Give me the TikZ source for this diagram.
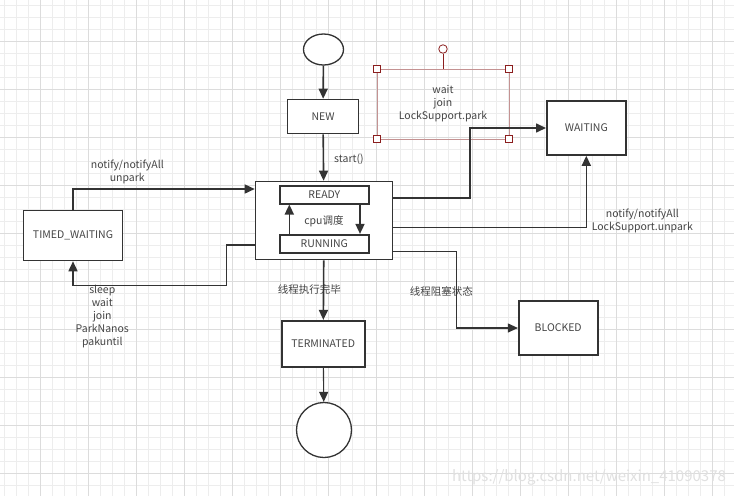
\documentclass[tikz,border=0pt]{standalone}
\usepackage{fontspec}
\setmainfont{Noto Sans CJK SC}
\usetikzlibrary{arrows.meta,shapes.geometric}

\definecolor{linegray}{HTML}{333333}
\definecolor{textgray}{HTML}{444444}
\definecolor{gridminor}{HTML}{EDEDED}
\definecolor{gridmajor}{HTML}{DCDCDC}
\definecolor{selline}{HTML}{C49292}
\definecolor{selhandle}{HTML}{8B1E1E}

\begin{document}
\begin{tikzpicture}[x=1pt,y=-1pt,
    font=\fontsize{10.5}{13}\selectfont,
    box/.style={draw=linegray,line width=1.6pt,fill=white,text=textgray,inner sep=0pt},
    conn/.style={draw=linegray,line width=1.6pt,-{Triangle[length=10pt,width=9pt]}},
    thinconn/.style={draw=linegray,line width=1.1pt,-{Triangle[length=10pt,width=9pt]}},
    lbl/.style={text=textgray,align=center,inner sep=0pt},
    handle/.style={draw=selhandle,line width=0.8pt,fill=white,minimum size=7pt,inner sep=0pt}]
                \useasboundingbox (0,0) rectangle (734,496);
                \fill[white] (0,0) rectangle (734,496);
                % grid
                \foreach \gx in {0,...,60} \draw[gridminor,line width=0.9pt] ({4.3+12*\gx},0) -- ({4.3+12*\gx},496);
                \foreach \gy in {0,...,40} \draw[gridminor,line width=0.9pt] (0,{5.5+12*\gy}) -- (734,{5.5+12*\gy});
                \foreach \gx in {0,...,14} \draw[gridmajor,line width=0.9pt] ({40.3+48*\gx},0) -- ({40.3+48*\gx},496);
                \foreach \gy in {0,...,9} \draw[gridmajor,line width=0.9pt] (0,{41.3+48*\gy}) -- (734,{41.3+48*\gy});

                % states
                \node[box,ellipse,line width=1.3pt,minimum width=40pt,minimum height=31pt] (start) at (323.5,49.5) {};
                \node[box,minimum width=71pt,minimum height=34pt] (new) at (323,116.5) {NEW};
                \node[box,minimum width=137pt,minimum height=78pt] (runnable) at (324,220.5) {};
                \node[box,minimum width=89pt,minimum height=18pt] (ready) at (324.3,194.7) {READY};
                \node[box,minimum width=89pt,minimum height=18pt] (running) at (324.3,243.7) {RUNNING};
                \node[box,minimum width=79pt,minimum height=54pt] (waiting) at (586.3,128) {WAITING};
                \node[box,minimum width=99pt,minimum height=50pt] (timed) at (73,235.5) {TIMED\_WAITING};
                \node[box,minimum width=83pt,minimum height=46pt] (terminated) at (323.2,343.7) {TERMINATED};
                \node[box,minimum width=79pt,minimum height=54pt] (blocked) at (558.2,328) {BLOCKED};
                \node[box,circle,line width=1.3pt,minimum size=55pt] (end) at (324,430) {};

                % selected label
                \node[lbl,draw=selline,line width=0.7pt,minimum width=132pt,minimum height=70pt] (waitlbl) at (443,104) {wait\\join\\LockSupport.park};
                \foreach \c in {north west,north east,south west,south east} \node[handle] at (waitlbl.\c) {};
                \node[handle,circle,minimum size=8.5pt] (rot) at (443,49) {};
                \draw[selhandle,line width=0.8pt] (rot) -- (waitlbl.north);

                % labels
                \node[lbl,anchor=west] (startlbl) at (334,159) {start()};
                \node[lbl] (cpulbl) at (324,221) {cpu调度};
                \node[lbl] (tw2r) at (127.3,172) {notify/notifyAll\\unpark};
                \node[lbl] (r2tw) at (102.3,316.7) {sleep\\wait\\join\\ParkNanos\\pakuntil};
                \node[lbl] (w2r) at (642.3,221) {notify/notifyAll\\LockSupport.unpark};
                \node[lbl] (donelbl) at (309.3,289.3) {线程执行完毕};
                \node[lbl] (blocklbl) at (441.3,291.7) {线程阻塞状态};

                % transitions
                \draw[conn] (start) -- (new);
                \draw[conn] (new) -- (runnable);
                \draw[conn] ([xshift=35.7pt]ready.south) -- ([xshift=35.7pt]running.north);
                \draw[conn] ([xshift=-35pt]running.north) -- ([xshift=-35pt]ready.south);
                \draw[conn] (timed.north) |- ([yshift=31.5pt]runnable.west);
                \draw[conn] ([yshift=-24.5pt]runnable.west) -- ++(-28.3,0) |- ([yshift=-24pt]timed.south) -- (timed.south);
                \draw[conn] ([yshift=22.8pt]runnable.east) -- ++(76.6,0) |- (waiting.west);
                \draw[conn] ([yshift=-6.8pt]runnable.east) -| (waiting.south);
                \draw[thinconn] ([yshift=-30.8pt]runnable.east) -- ++(63.3,0) |- (blocked.west);
                \draw[conn] (runnable) -- (terminated);
                \draw[thinconn] (terminated) -- (end);

                % watermark
                \node[text=black!12,font=\fontsize{15}{15}\selectfont,inner sep=0pt] (mark) at (589,477) {https://blog.csdn.net/weixin\_41090378};
\end{tikzpicture}
\end{document}
